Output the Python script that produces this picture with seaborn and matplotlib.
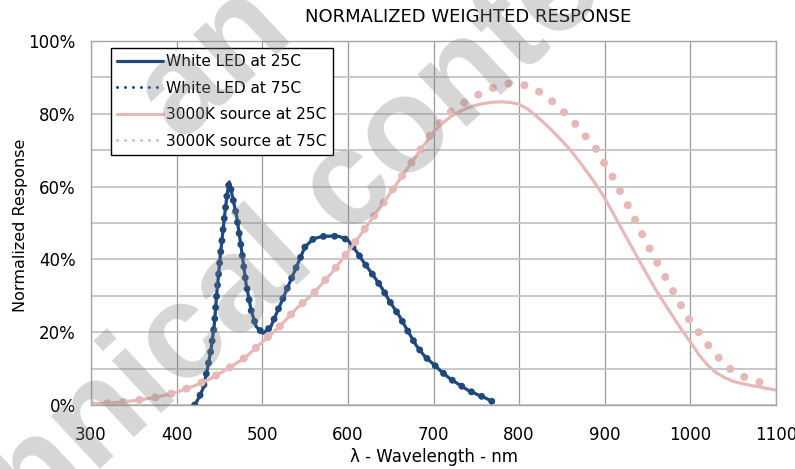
import numpy as np
import pandas as pd
import matplotlib
matplotlib.use('Agg')
import matplotlib.pyplot as plt
from matplotlib.lines import Line2D
from matplotlib.ticker import FuncFormatter, MultipleLocator
import seaborn as sns

# White LED response (25C and 75C curves overlap)
led_nm = [421, 426, 431, 436, 440, 444, 447, 451, 456, 459, 461.5, 465, 470, 475,
          481, 487, 493, 501, 510, 520, 530, 540, 550, 560, 570, 580, 590, 600,
          610, 620, 630, 640, 650, 660, 670, 680, 690, 700, 710, 720, 730, 740,
          750, 760, 770]
led_25 = [0, 2, 4.6, 10, 15, 22, 31, 41, 52, 58, 61.3, 57.5, 52, 44,
          33.5, 26, 21.5, 19.7, 21.5, 27, 32.5, 38, 43.5, 45.7, 46.3, 46.4, 46.3, 45.3,
          42.2, 38.7, 35.5, 32, 28, 24.5, 20.3, 16.3, 13.3, 11.2, 9, 7.1, 5.6, 4.1,
          3, 2, 0.8]
led_75 = led_25

# 3000K source response
src_nm_25 = [300, 320, 340, 360, 380, 400, 420, 440, 460, 480, 500, 520, 540, 560,
             580, 600, 620, 640, 660, 680, 700, 710, 720, 730, 740, 750, 760, 770,
             780, 790, 800, 810, 820, 830, 840, 850, 860, 870, 880, 890, 900, 910,
             920, 930, 940, 950, 960, 970, 980, 990, 1000, 1010, 1020, 1030, 1040,
             1050, 1060, 1070, 1080, 1090, 1100]
src_25 = [0.3, 0.5, 0.9, 1.5, 2.3, 3.5, 5.2, 7.3, 10, 13, 17.3, 21.5, 26.5, 30.7,
          36, 42, 48.5, 55, 61.8, 68.5, 75, 77.3, 79.2, 80.6, 81.6, 82.4, 82.9, 83.2,
          83.3, 83.1, 82.6, 81.3, 79.4, 77.3, 75, 72.6, 70, 67, 63.8, 60.5, 56.8, 52.6,
          48.3, 44, 39.8, 35.6, 31.5, 27.8, 24.2, 20.6, 17.3, 13.8, 11, 8.9, 7.5,
          6.5, 5.9, 5.4, 5, 4.5, 4.1]

src_nm_75 = [300, 320, 340, 360, 380, 400, 420, 440, 460, 480, 500, 520, 540, 560,
             580, 600, 620, 640, 660, 680, 700, 715, 731, 750, 768, 785, 801, 819,
             835, 850, 864, 877, 890, 900, 911, 920, 930, 939, 949, 960, 970, 980,
             990, 1000, 1013, 1025, 1038, 1050, 1068, 1087, 1095]
src_75 = [0.3, 0.5, 0.9, 1.5, 2.3, 3.5, 5.2, 7.3, 10, 13, 17.3, 21.5, 26.5, 30.7,
          36, 42, 48.5, 55, 61.8, 68.5, 75.5, 79.7, 82.4, 85, 87, 88.3, 88.3, 86.8,
          84.2, 81, 77.7, 74, 70.3, 66.2, 62, 57.7, 53.6, 49.2, 44.4, 39.6, 35.4, 31.2,
          27, 22.9, 19, 15.1, 11.7, 9.2, 7.1, 5.9, 5.6]

labels = ['White LED at 25C', 'White LED at 75C', '3000K source at 25C', '3000K source at 75C']
blue = '#1F497D'
pink = '#E6B9B8'

sns.set_style('white')
plt.rcParams['font.family'] = ['DejaVu Sans']
plt.rcParams['text.color'] = 'black'
plt.rcParams['axes.labelcolor'] = 'black'

fig = plt.figure(figsize=(7.95, 4.69), dpi=100)
ax = fig.add_axes([91/795, 64/469, 685/795, 364/469])

sns.lineplot(x=led_nm, y=led_25, color=blue, linewidth=2.3, ax=ax)
sns.lineplot(x=led_nm, y=led_75, color=blue, linewidth=5.0, ax=ax,
             linestyle=(0, (0.01, 1.6)), dash_capstyle='round')
sns.lineplot(x=src_nm_25, y=src_25, color=pink, linewidth=2.3, ax=ax)
sns.lineplot(x=src_nm_75, y=src_75, color=pink, linewidth=5.8, ax=ax,
             linestyle=(0, (0.01, 2.0)), dash_capstyle='round')

ax.set_xlim(300, 1100)
ax.set_ylim(0, 100)
ax.xaxis.set_major_locator(MultipleLocator(100))
ax.yaxis.set_major_locator(MultipleLocator(20))
ax.yaxis.set_minor_locator(MultipleLocator(10))
ax.yaxis.set_major_formatter(FuncFormatter(lambda v, p: f'{v:.0f}%'))
ax.grid(True, axis='x', color='#9a9a9a', linewidth=0.9)
ax.grid(True, axis='y', which='both', color='#c4c4c4', linewidth=1.3)
ax.set_axisbelow(True)
for s in ax.spines.values():
    s.set_color('#a6a6a6')
    s.set_linewidth(1)
ax.tick_params(axis='both', which='both', length=0, labelsize=12, colors='black')
ax.tick_params(axis='x', pad=15)
ax.tick_params(axis='y', pad=11)

ax.set_xlabel('λ - Wavelength - nm', fontsize=12, labelpad=3)
ax.set_ylabel('Normalized Response', fontsize=11.5)
ax.yaxis.set_label_coords(-0.092, 0.495)
fig.text(468/795, 1 - 17/469, 'NORMALIZED WEIGHTED RESPONSE', fontsize=13,
         ha='center', va='center')

handles = [
    Line2D([], [], color=blue, linewidth=2.3),
    Line2D([], [], color=blue, linewidth=2.2, linestyle=(0, (0.01, 2.6)), dash_capstyle='round'),
    Line2D([], [], color=pink, linewidth=2.3),
    Line2D([], [], color=pink, linewidth=2.2, linestyle=(0, (0.01, 2.6)), dash_capstyle='round'),
]
leg = ax.legend(handles, labels, loc='upper left', bbox_to_anchor=(0.029, 0.981),
                borderaxespad=0, fontsize=11.1, frameon=True, fancybox=False,
                handlelength=3.0, handletextpad=0.2, labelspacing=0.75, borderpad=0.4)
leg.get_frame().set_edgecolor('black')
leg.get_frame().set_linewidth(1)
leg.get_frame().set_alpha(1)

# watermark
wm = dict(fontsize=97, fontweight='bold', family='Liberation Sans', color='#808080',
          alpha=0.32, rotation=43, ha='center', va='center', rotation_mode='anchor', zorder=10)
fig.text(262/795, 1 - 270/469, 'Technical content', **wm)
fig.text(214/795, 1 - 62/469, 'an', **wm)

fig.savefig('out.png', dpi=100)
